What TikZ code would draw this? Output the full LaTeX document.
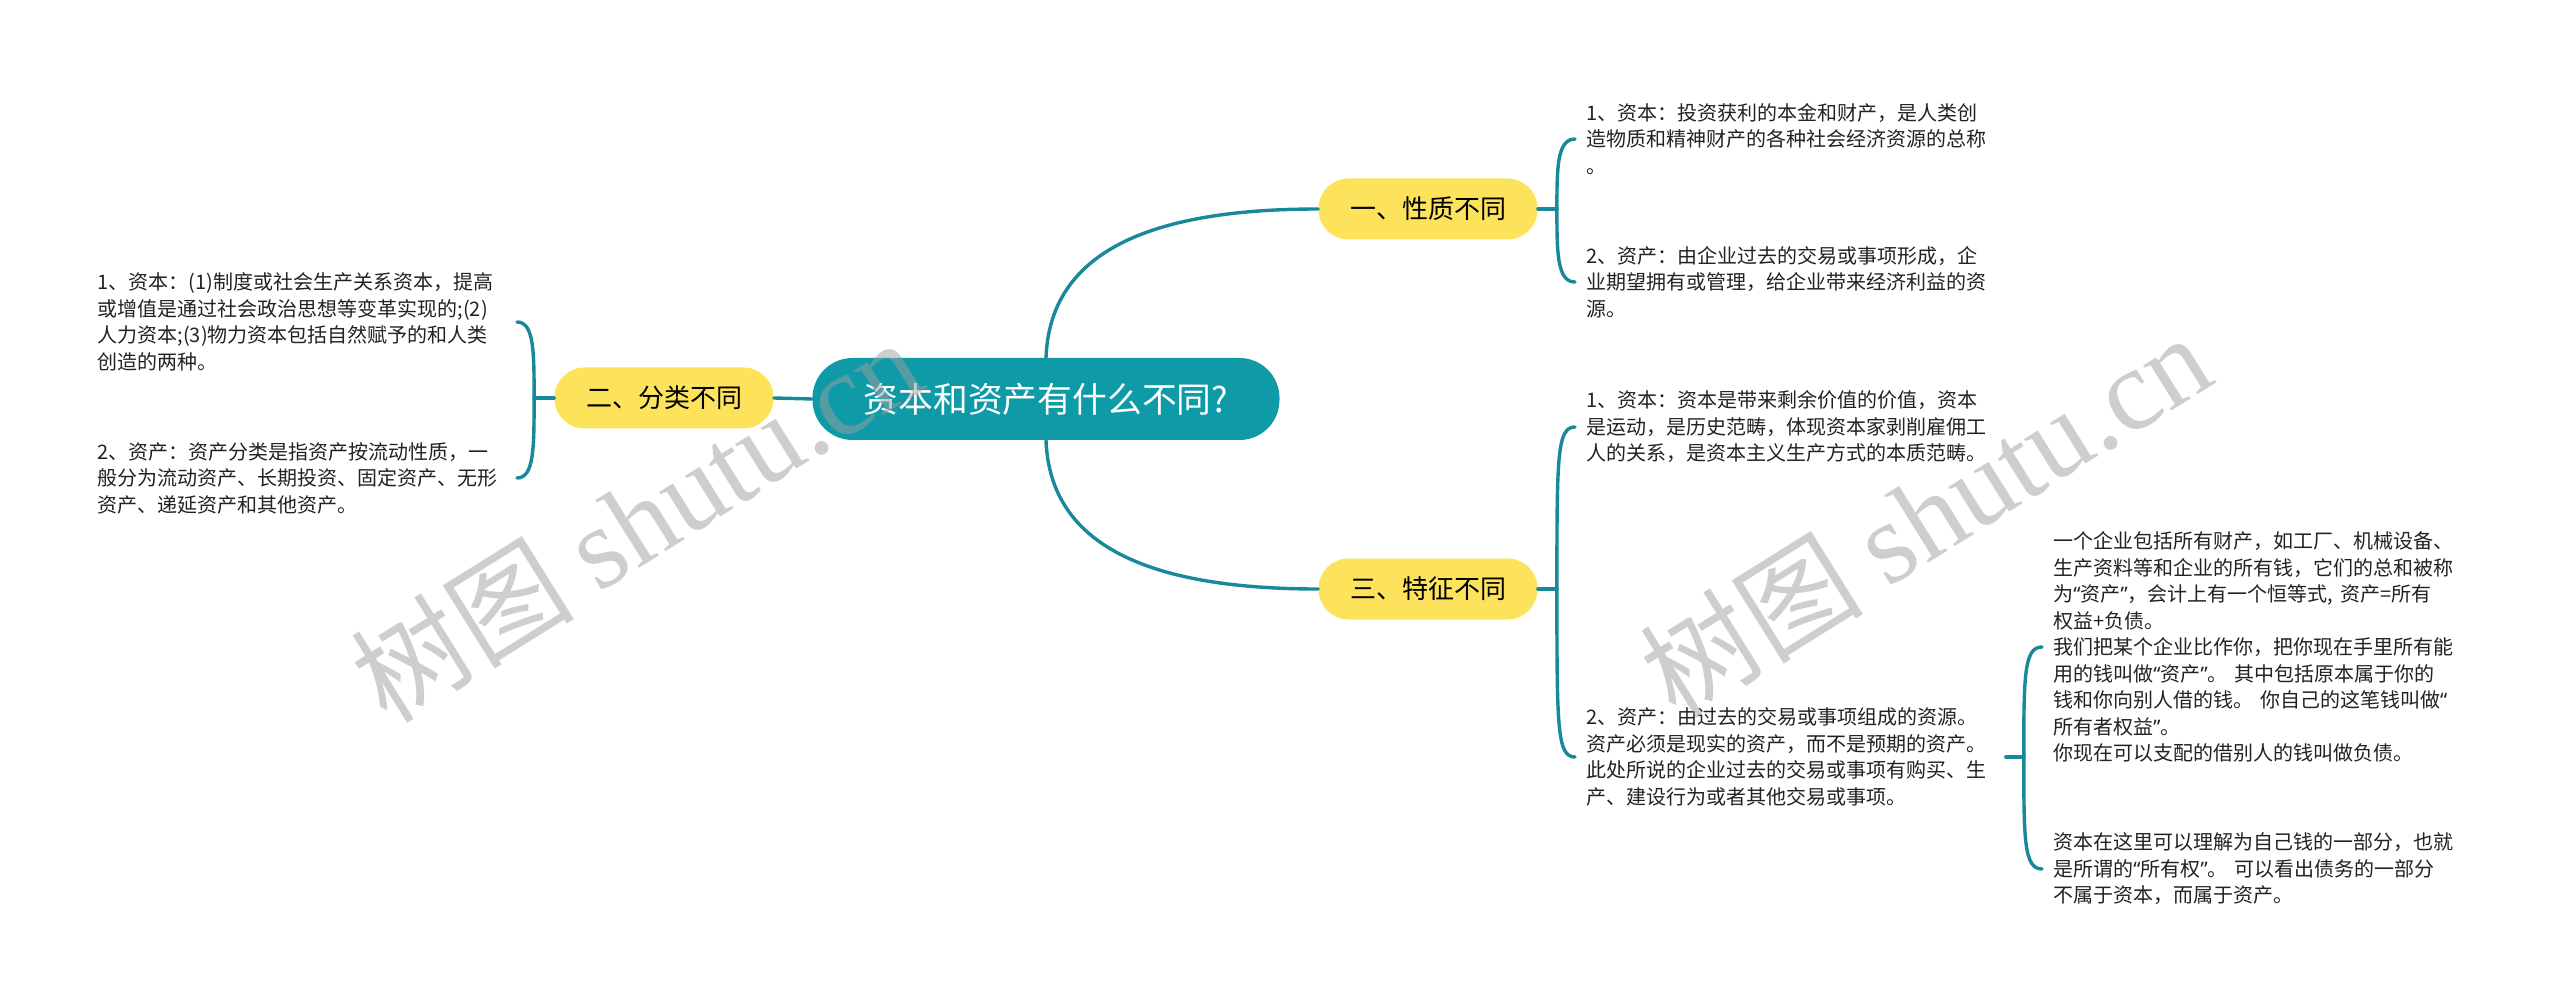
\documentclass[tikz,border=0pt]{standalone}
\usepackage{fontspec}
\setmainfont{Noto Sans CJK SC}
\newfontfamily\wmlatin{Liberation Serif}
\newfontfamily\latinq{Noto Sans}
\newcommand{\lqm}{{\latinq “}}
\newcommand{\rqm}{{\latinq ”}}
\usetikzlibrary{calc}
\definecolor{rootc}{HTML}{0F9AA8}
\definecolor{linec}{HTML}{17899A}
\definecolor{yel}{HTML}{FDE35B}
\definecolor{txt}{HTML}{222222}
\definecolor{wmc}{HTML}{9E9E9E}
\begin{document}
\begin{tikzpicture}[x=0.5pt,y=-0.5pt,
  conn/.style={draw=linec,line width=1.7pt,line cap=round},
  rootbox/.style={fill=rootc,rounded corners=20pt,minimum width=233.5pt,minimum height=41pt,text=white,font=\fontsize{17.4pt}{20pt}\selectfont,inner sep=0pt},
  branch/.style={fill=yel,rounded corners=15pt,minimum width=109.5pt,minimum height=30.5pt,text=black,font=\fontsize{13pt}{16pt}\selectfont,inner sep=0pt},
  leaf/.style={text=txt,font=\fontsize{10pt}{13.25pt}\selectfont,align=left,text width=204pt,inner xsep=5.5pt,inner ysep=0pt},
  lleaf/.style={leaf,anchor=east,text width=204.5pt,inner xsep=5pt},
  rleaf/.style={leaf,anchor=west},
  wmark/.style={text=wmc,opacity=0.5,rotate=32,inner sep=0pt}]
\useasboundingbox[fill=white] (0,0) rectangle (2560,1005);

\node[rootbox] (root) at (1046,399) {资本和资产有什么不同?};
\node[branch] (b1) at (1428,209) {一、性质不同};
\node[branch] (b2) at (664,398) {二、分类不同};
\node[branch] (b3) at (1428,589) {三、特征不同};

\node[rleaf] (r1a) at (1575,139) {1、资本：投资获利的本金和财产，是人类创\\造物质和精神财产的各种社会经济资源的总称\\。};
\node[rleaf] (r1b) at (1575,282) {2、资产：由企业过去的交易或事项形成，企\\业期望拥有或管理，给企业带来经济利益的资\\源。};
\node[rleaf] (r3a) at (1575,427) {1、资本：资本是带来剩余价值的价值，资本\\是运动，是历史范畴，体现资本家剥削雇佣工\\人的关系，是资本主义生产方式的本质范畴。};
\node[rleaf] (r3b) at (1575,757) {2、资产：由过去的交易或事项组成的资源。\\资产必须是现实的资产，而不是预期的资产。\\此处所说的企业过去的交易或事项有购买、生\\产、建设行为或者其他交易或事项。};
\node[rleaf] (r3b1) at (2042,647) {一个企业包括所有财产，如工厂、机械设备、\\生产资料等和企业的所有钱，它们的总和被称\\为\lqm 资产\rqm ，会计上有一个恒等式, 资产=所有\\权益+负债。\\我们把某个企业比作你，把你现在手里所有能\\用的钱叫做\lqm 资产\rqm 。 其中包括原本属于你的\\钱和你向别人借的钱。 你自己的这笔钱叫做\lqm\\所有者权益\rqm 。\\你现在可以支配的借别人的钱叫做负债。};
\node[rleaf] (r3b2) at (2042,869) {资本在这里可以理解为自己钱的一部分，也就\\是所谓的\lqm 所有权\rqm 。 可以看出债务的一部分\\不属于资本，而属于资产。};
\node[lleaf] (l1) at (517,322) {1、资本：(1)制度或社会生产关系资本，提高\\或增值是通过社会政治思想等变革实现的;(2)\\人力资本;(3)物力资本包括自然赋予的和人类\\创造的两种。};
\node[lleaf] (l2) at (517,478) {2、资产：资产分类是指资产按流动性质，一\\般分为流动资产、长期投资、固定资产、无形\\资产、递延资产和其他资产。};

\coordinate (f1) at ($(b1.east)+(19,0)$);
\coordinate (f2) at ($(b2.west)+(-20,0)$);
\coordinate (f3) at ($(b3.east)+(19,0)$);
\coordinate (f4) at ($(r3b.east)+(18,0)$);

\draw[conn] (root.north) .. controls +(4,-105) and +(-170,0) .. (b1.west);
\draw[conn] (root.south) .. controls +(4,105) and +(-170,0) .. (b3.west);
\draw[conn] (root.west) -- (b2.east);

\draw[conn] (b1.east) -- (f1);
\draw[conn] (f1) .. controls ($(f1|-r1a.west)+(0,30)$) and (f1|-r1a.west) .. (r1a.west);
\draw[conn] (f1) .. controls ($(f1|-r1b.west)+(0,-30)$) and (f1|-r1b.west) .. (r1b.west);

\draw[conn] (b3.east) -- (f3);
\draw[conn] (f3) .. controls ($(f3|-r3a.west)+(0,30)$) and (f3|-r3a.west) .. (r3a.west);
\draw[conn] (f3) .. controls ($(f3|-r3b.west)+(0,-30)$) and (f3|-r3b.west) .. (r3b.west);

\draw[conn] (r3b.east) -- (f4);
\draw[conn] (f4) .. controls ($(f4|-r3b1.west)+(0,30)$) and (f4|-r3b1.west) .. (r3b1.west);
\draw[conn] (f4) .. controls ($(f4|-r3b2.west)+(0,-30)$) and (f4|-r3b2.west) .. (r3b2.west);

\draw[conn] (b2.west) -- (f2);
\draw[conn] (f2) .. controls ($(f2|-l1.east)+(0,30)$) and (f2|-l1.east) .. (l1.east);
\draw[conn] (f2) .. controls ($(f2|-l2.east)+(0,-30)$) and (f2|-l2.east) .. (l2.east);

\node[wmark] (wm1) at (636,520) {\fontsize{56pt}{58pt}\selectfont 树图 {\wmlatin\fontsize{58pt}{60pt}\selectfont shutu.cn}};
\node[wmark] (wm2) at (1925,515) {\fontsize{56pt}{58pt}\selectfont 树图 {\wmlatin\fontsize{58pt}{60pt}\selectfont shutu.cn}};
\end{tikzpicture}
\end{document}
